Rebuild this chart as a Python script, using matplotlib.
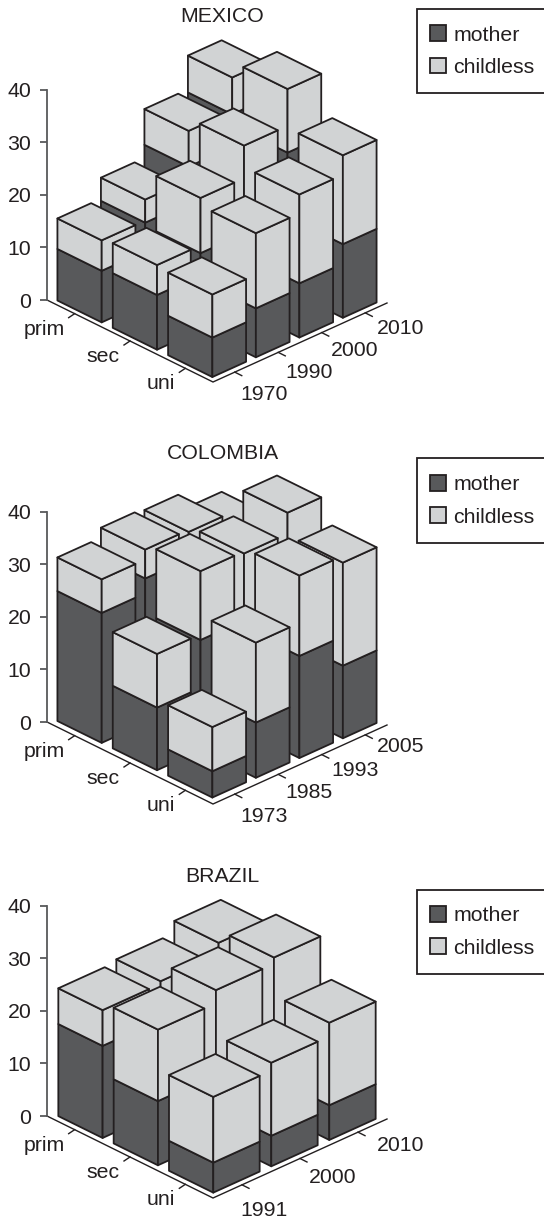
import numpy as np
import matplotlib
matplotlib.use("Agg")
import matplotlib.pyplot as plt
from matplotlib.patches import Polygon, Patch, Rectangle

plt.rcParams['font.family'] = ['Liberation Sans', 'DejaVu Sans']

education = ['prim', 'sec', 'uni']
value_ticks = [0, 10, 20, 30, 40]

mexico_years = ['1970', '1990', '2000', '2010']
mexico_mother = [[9.8, 15.2, 22.1, 28.3],
                 [10.4, 14.6, 18.0, 26.2],
                 [7.5, 9.3, 10.3, 14.0]]
mexico_childless = [[5.8, 4.4, 6.8, 7.0],
                    [5.7, 10.5, 13.3, 12.1],
                    [8.2, 14.3, 16.9, 16.9]]

colombia_years = ['1973', '1985', '1993', '2005']
colombia_mother = [[24.7, 27.5, 25.7, 21.7],
                   [11.9, 21.0, 19.7, 23.7],
                   [5.0, 10.5, 19.4, 13.8]]
colombia_childless = [[6.4, 5.5, 6.9, 7.7],
                      [10.2, 13.1, 14.0, 14.0],
                      [8.4, 15.2, 15.3, 19.6]]

brazil_years = ['1991', '2000', '2010']
brazil_mother = [[17.5, 16.0, 18.0],
                 [12.2, 10.0, 10.0],
                 [5.7, 5.8, 6.6]]
brazil_childless = [[6.8, 8.8, 9.1],
                    [13.6, 18.3, 19.5],
                    [12.5, 13.9, 15.7]]

W, H = 544, 1222
DARK = '#58595b'
LIGHT = '#d1d3d4'
INK = '#231f20'
FS = 15.3
LW = 1.3

# the oblique floor, in pixels
PX = 5.26
AXIS_X = 47
U_VEC = np.array([166.0, 82.0])
V_VEC = np.array([174.0, -79.0])

fig = plt.figure(figsize=(W / 100, H / 100), dpi=100)


def draw_panel(title, years, mother, childless, origin_y, top_px, bottom_px, title_y, legend_top,
               last_label=27.5, lift=0):
    ax = fig.add_axes([0, 1 - bottom_px / H, 1, (bottom_px - top_px) / H])
    ax.patch.set_alpha(0)
    ax.set_xlim(0, W)
    ax.set_ylim((origin_y - bottom_px) / PX, (origin_y - top_px) / PX)

    n = len(years)
    u_step = U_VEC / 3
    v_step = V_VEC / n
    v_width = 0.775 if n == 4 else 0.8

    def project(u, v, h=0):
        x = AXIS_X + u * u_step[0] + v * v_step[0]
        y = h - (u * u_step[1] + v * v_step[1]) / PX
        return (x, y)

    def bar_point(u, v, h):
        x, y = project(u, v, h)
        return (x, y + lift / PX)

    # back to front so nearer bars cover the others
    for i in range(3):
        for j in range(n - 1, -1, -1):
            ua, ub = i + 0.1, i + 0.9
            va, vb = j + (1 - v_width) / 2, j + (1 + v_width) / 2
            m = mother[i][j]
            t = m + childless[i][j]
            for low, high, col in [(0, m, DARK), (m, t, LIGHT)]:
                left = [bar_point(ua, va, low), bar_point(ub, va, low),
                        bar_point(ub, va, high), bar_point(ua, va, high)]
                right = [bar_point(ub, va, low), bar_point(ub, vb, low),
                         bar_point(ub, vb, high), bar_point(ub, va, high)]
                for face in (left, right):
                    ax.add_patch(Polygon(face, closed=True, facecolor=col, edgecolor=INK,
                                         linewidth=LW, joinstyle='round', clip_on=False))
            top = [bar_point(ua, va, t), bar_point(ub, va, t), bar_point(ub, vb, t), bar_point(ua, vb, t)]
            ax.add_patch(Polygon(top, closed=True, facecolor=LIGHT, edgecolor=INK,
                                 linewidth=LW, joinstyle='round', clip_on=False))

    # floor axes
    corners = [project(0, 0), project(3, 0), project(3, n)]
    ax.plot([c[0] for c in corners], [c[1] for c in corners], color=INK, lw=1.0,
            clip_on=False, solid_joinstyle='miter')

    for i, name in enumerate(education):
        x, y = project(i + 0.5, 0)
        ax.plot([x, x - 6], [y, y - 4 / PX], color=INK, lw=1.0, clip_on=False)
        ax.text(x - 10, y - 15.5 / PX, name, ha='right', va='center', fontsize=FS, color=INK)

    label_x = np.linspace(240, 377, n)
    label_y = np.linspace(94, last_label, n)
    for j, year in enumerate(years):
        x, y = project(3, j + 0.5)
        ax.plot([x, x + 7], [y, y - 3.5 / PX], color=INK, lw=1.0, clip_on=False)
        ax.text(label_x[j], -label_y[j] / PX, year, ha='left', va='center', fontsize=FS, color=INK)

    # value axis
    for side in ['top', 'right', 'bottom']:
        ax.spines[side].set_visible(False)
    ax.spines['left'].set_position(('data', AXIS_X))
    ax.spines['left'].set_bounds(0, 40)
    ax.spines['left'].set_color(DARK)
    ax.spines['left'].set_linewidth(LW)
    ax.set_xticks([])
    ax.set_yticks(value_ticks)
    ax.tick_params(axis='y', length=5.3, width=LW, color=DARK, pad=6, labelsize=FS, labelcolor=INK)

    ax.text(222.5, (origin_y - title_y - 1.5) / PX, title, ha='center', va='center', fontsize=FS, color=INK)

    # legend frame runs off the right edge of the page
    ax.add_patch(Rectangle((416.7, (origin_y - legend_top - 84.3) / PX), 140, 84.3 / PX, facecolor='white',
                           edgecolor=INK, linewidth=LW, clip_on=False, zorder=9))
    handles = [Patch(facecolor=DARK, edgecolor=INK, linewidth=LW, label='mother'),
               Patch(facecolor=LIGHT, edgecolor=INK, linewidth=LW, label='childless')]
    leg = ax.legend(handles=handles, loc='upper left',
                    bbox_to_anchor=(430 / W, (bottom_px - legend_top - 16.5) / (bottom_px - top_px)),
                    borderaxespad=0, borderpad=0, handlelength=0.75, handleheight=0.75,
                    handletextpad=0.36, labelspacing=0.62, fontsize=FS, frameon=False, labelcolor=INK)
    leg.set_zorder(10)


draw_panel('MEXICO', mexico_years, mexico_mother, mexico_childless, 300, 0, 420, 15, 9, last_label=28)
draw_panel('COLOMBIA', colombia_years, colombia_mother, colombia_childless, 722, 430, 840, 452, 458.5,
           last_label=25, lift=1.5)
draw_panel('BRAZIL', brazil_years, brazil_mother, brazil_childless, 1116, 850, 1222, 875, 889.5, last_label=29.5)

fig.savefig('out.png', dpi=100)
